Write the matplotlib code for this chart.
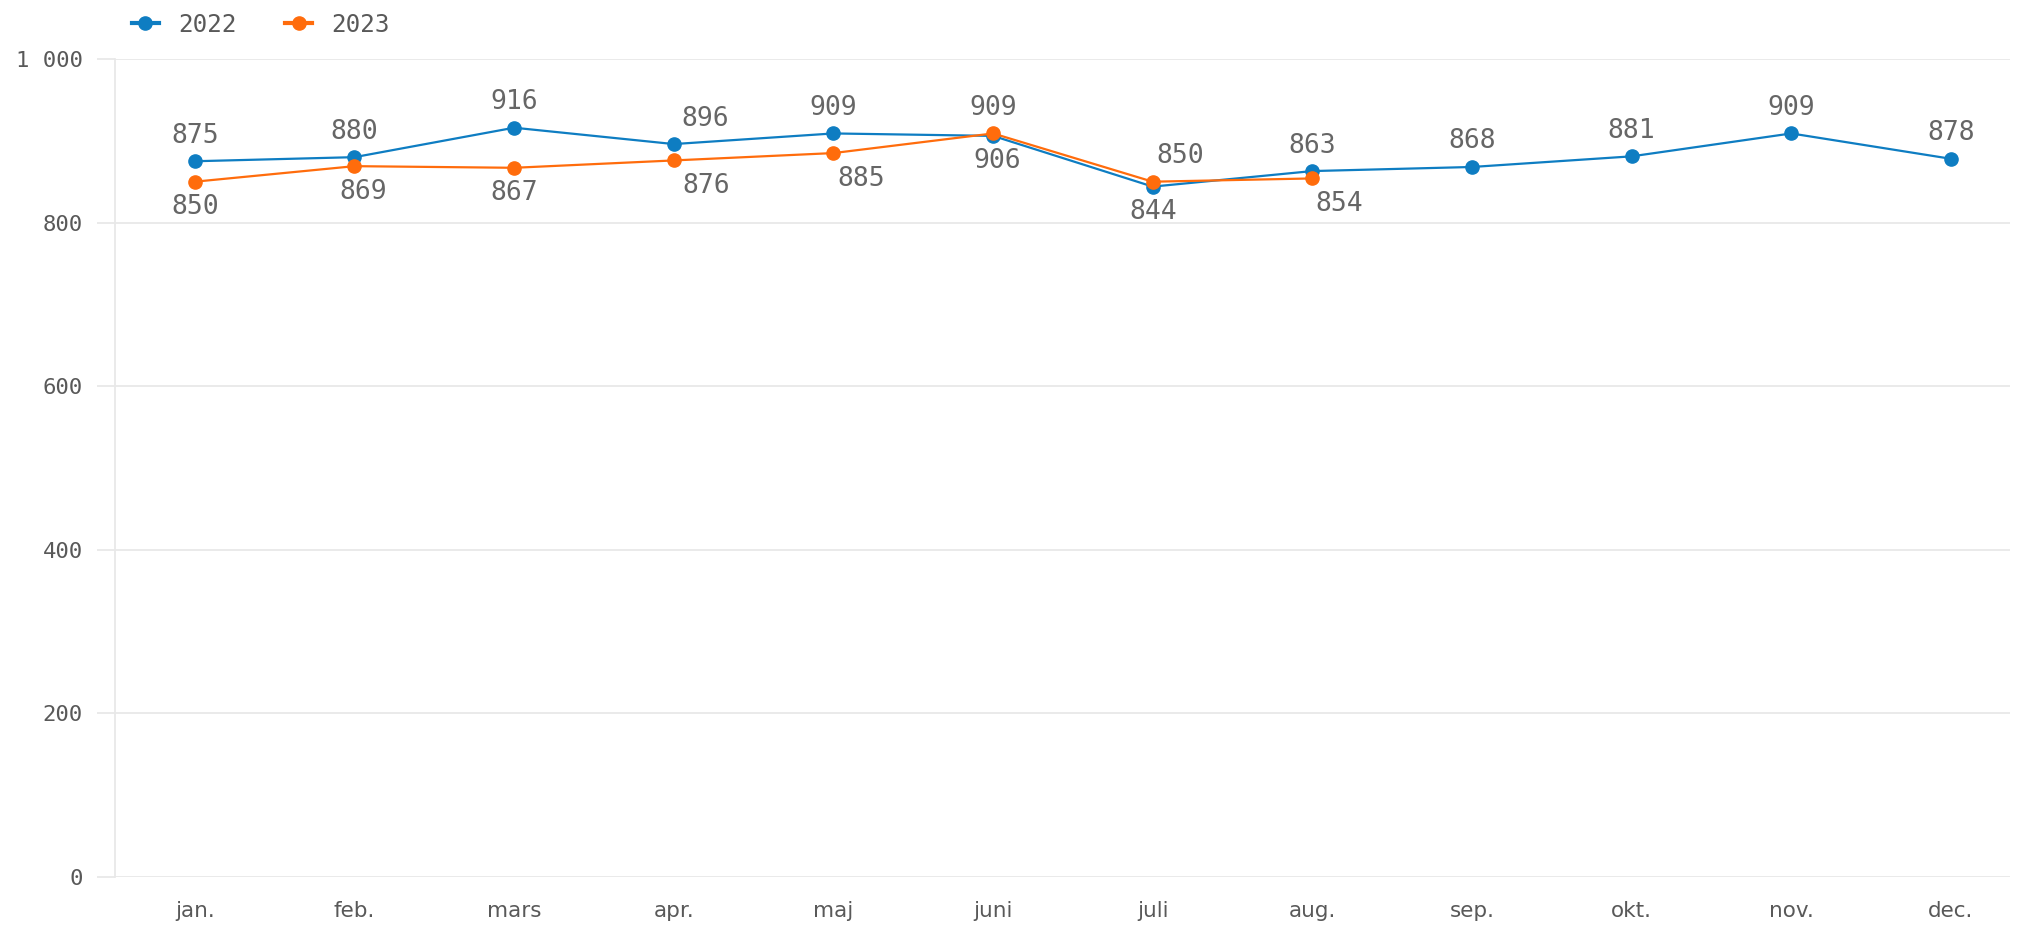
import matplotlib
matplotlib.use("Agg")
import matplotlib.pyplot as plt
from matplotlib.lines import Line2D

months = ["jan.", "feb.", "mars", "apr.", "maj", "juni", "juli", "aug.", "sep.", "okt.", "nov.", "dec."]
values_2022 = [875, 880, 916, 896, 909, 906, 844, 863, 868, 881, 909, 878]
values_2023 = [850, 869, 867, 876, 885, 909, 850, 854]
y_ticks = [0, 200, 400, 600, 800, 1000]
y_tick_labels = ["0", "200", "400", "600", "800", "1\u00a0000"]

# label placement (style): +1 above, -1 below; horizontal nudges in px
pos_2022 = [1, 1, 1, 1, 1, -1, -1, 1, 1, 1, 1, 1]
dx_2022 = [0, 0, 0, 31, 0, 4, 0, 0, 0, 0, 0, 0]
pos_2023 = [-1, -1, -1, -1, -1, 1, 1, -1]
dx_2023 = [0, 9, 0, 32, 28, 0, 27, 27]

BLUE = "#0e7dc2"
ORANGE = "#ff6c0c"
LABEL = "#666666"
TICK = "#595959"
GRID = "#e8e8e8"
MONO = "DejaVu Sans Mono"

W, H = 2023, 930
DPI = 100
px = 72.0 / DPI  # points per pixel

fig = plt.figure(figsize=(W / DPI, H / DPI), dpi=DPI)
ax = fig.add_axes([115 / W, 1 - 877 / H, (2010 - 115) / W, (877 - 59) / H])

x = list(range(len(months)))
x23 = x[:len(values_2023)]

ax.plot(x, values_2022, color=BLUE, lw=1.6, marker="o", ms=9.5, zorder=3)
ax.plot(x23, values_2023, color=ORANGE, lw=1.6, marker="o", ms=9.5, zorder=4)

off = 25.5 * px
for xi, v, p, d in zip(x, values_2022, pos_2022, dx_2022):
    ax.annotate(str(v), (xi, v), xytext=(d * px, p * off), textcoords="offset points",
                ha="center", va="center", fontsize=19, color=LABEL, family=MONO, zorder=5)
for xi, v, p, d in zip(x23, values_2023, pos_2023, dx_2023):
    ax.annotate(str(v), (xi, v), xytext=(d * px, p * off), textcoords="offset points",
                ha="center", va="center", fontsize=19, color=LABEL, family=MONO, zorder=5)

ax.set_ylim(0, 1000)
ax.set_xlim(-0.5, 11.37)
ax.set_yticks(y_ticks)
ax.set_yticklabels(y_tick_labels, family=MONO, fontsize=16, color=TICK)
ax.set_xticks(x)
ax.set_xticklabels(months, family="DejaVu Sans", fontsize=15.5, color=TICK)
ax.yaxis.grid(True, color=GRID, lw=1.3)
ax.set_axisbelow(True)
ax.tick_params(axis="y", length=18 * px, width=1.3, color=GRID, pad=14 * px)
ax.tick_params(axis="x", length=0, pad=24 * px)
for s in ["top", "right", "bottom"]:
    ax.spines[s].set_visible(False)
ax.spines["left"].set_color(GRID)
ax.spines["left"].set_linewidth(1.3)

handles = [Line2D([], [], color=BLUE, lw=3, marker="o", ms=9.5),
           Line2D([], [], color=ORANGE, lw=3, marker="o", ms=9.5)]
leg = fig.legend(handles, ["2022", "2023"], loc="center left",
                 bbox_to_anchor=(132 / W, 1 - 25 / H), ncol=2, frameon=False,
                 prop={"family": MONO, "size": 17.5}, handlelength=1.1,
                 handletextpad=0.8, columnspacing=2.0, borderpad=0, borderaxespad=0)
for t in leg.get_texts():
    t.set_color(TICK)

fig.savefig("out.png", dpi=DPI)
